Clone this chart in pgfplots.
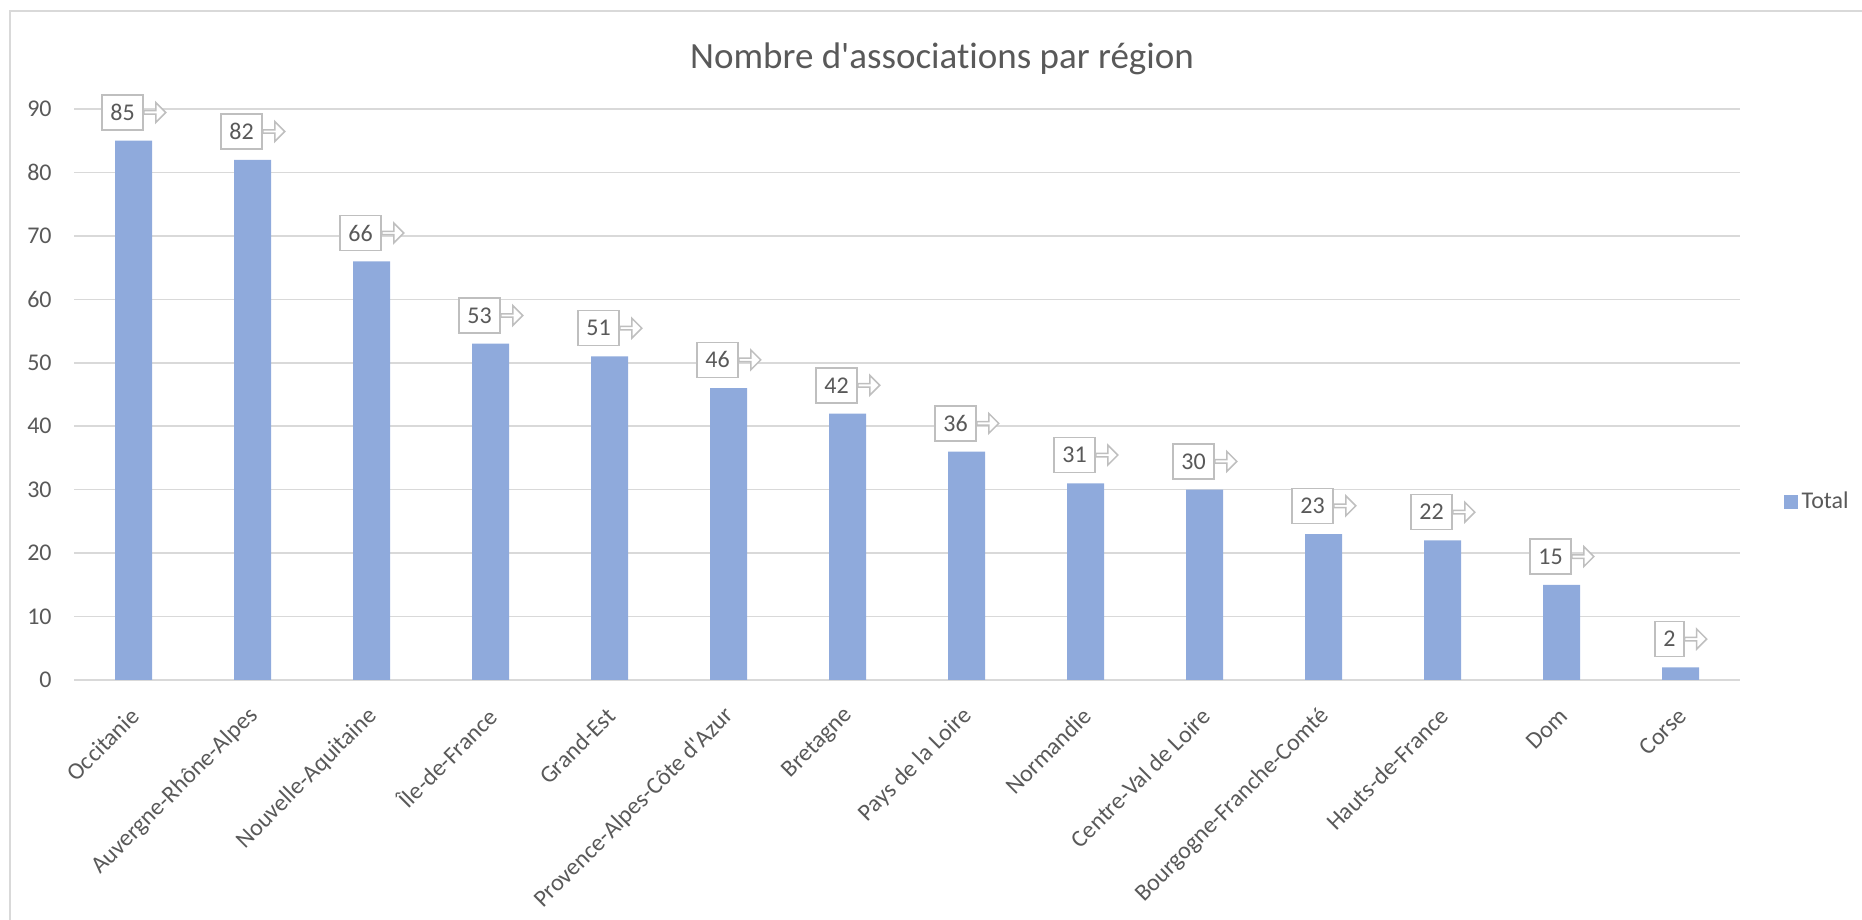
\documentclass[border=0pt]{standalone}
\usepackage{fontspec}
\setmainfont{Carlito}[Ligatures={TeX,NoCommon}]
\usepackage{pgfplots}
\pgfplotsset{compat=1.18}
\usetikzlibrary{shapes.arrows}
\definecolor{barblue}{HTML}{8FAADC}
\definecolor{gridgray}{HTML}{D9D9D9}
\definecolor{txtgray}{HTML}{595959}
\definecolor{callgray}{HTML}{BFBFBF}

% arrow part of the data label callouts
\tikzset{callarrow/.style={shape=single arrow, draw=callgray, fill=white, line width=0.75pt,
  minimum height=11pt, minimum width=10pt, single arrow head extend=1.8pt,
  single arrow tip angle=90, inner sep=0pt, anchor=tail, xshift=-0.4pt}}

\begin{document}
\begin{tikzpicture}
\begin{axis}[
  at={(37pt,120pt)}, anchor=south west,
  scale only axis, width=833pt, height=285.5pt,
  ybar, bar width=18.5pt,
  xmin=-0.5, xmax=13.5, ymin=0, ymax=90,
  ytick={0,10,...,90},
  xtick=data,
  xticklabels={Occitanie, Auvergne-Rhône-Alpes, Nouvelle-Aquitaine, Île-de-France,
    Grand-Est, Provence-Alpes-Côte d\textquotesingle Azur, Bretagne, Pays de la Loire, Normandie,
    Centre-Val de Loire, Bourgogne-Franche-Comté, Hauts-de-France, Dom, Corse},
  axis line style={draw=none},
  major tick length=0pt,
  ymajorgrids, grid style={gridgray, line width=0.75pt},
  /pgf/number format/assume math mode=true,
  tick label style={font=\fontsize{12}{14}\selectfont, text=txtgray},
  yticklabel style={anchor=east, inner sep=0pt, xshift=-11pt},
  xticklabel style={inner sep=0pt, xshift=1pt, yshift=-16pt, rotate=45, anchor=east},
  nodes near coords,
  every node near coord/.append style={font=\fontsize{12}{14}\selectfont, text=txtgray,
    draw=callgray, line width=0.75pt, fill=white, inner xsep=4.2pt, inner ysep=0pt,
    minimum height=17.5pt, anchor=south, xshift=-5.5pt, yshift=5pt,
    label={[callarrow]east:}},
  legend style={at={(1.026,0.312)}, anchor=west, draw=none, fill=none, inner sep=0pt,
    font=\fontsize{12}{14}\selectfont, text=txtgray},
  legend image code/.code={\fill[barblue] (0pt,-3.5pt) rectangle (7pt,3.5pt);},
]
\addplot[fill=barblue, draw=none] coordinates {
  (0,85) (1,82) (2,66) (3,53) (4,51) (5,46) (6,42)
  (7,36) (8,31) (9,30) (10,23) (11,22) (12,15) (13,2)
};
\addlegendentry{Total}
\end{axis}
\node[font=\fontsize{18.5}{22}\selectfont, text=txtgray, anchor=base] at (471pt,425.5pt)
  {Nombre d\textquotesingle associations par région};
\draw[gridgray, line width=0.75pt] (5pt,-10pt) -- (5pt,454.5pt) -- (945pt,454.5pt);
\pgfresetboundingbox
\useasboundingbox (0,0) rectangle (931pt,460pt);
\end{tikzpicture}
\end{document}
